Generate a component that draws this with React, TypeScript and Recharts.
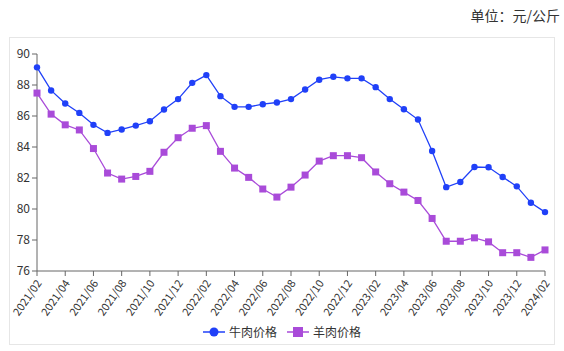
import React from 'react';
import { LineChart, Line, XAxis, YAxis } from 'recharts';

const months = [
  '2021/02', '2021/03', '2021/04', '2021/05', '2021/06', '2021/07', '2021/08', '2021/09', '2021/10', '2021/11', '2021/12',
  '2022/01', '2022/02', '2022/03', '2022/04', '2022/05', '2022/06', '2022/07', '2022/08', '2022/09', '2022/10', '2022/11', '2022/12',
  '2023/01', '2023/02', '2023/03', '2023/04', '2023/05', '2023/06', '2023/07', '2023/08', '2023/09', '2023/10', '2023/11', '2023/12',
  '2024/01', '2024/02',
];

const beef = [
  89.14, 87.65, 86.81, 86.2, 85.43, 84.91, 85.13, 85.38, 85.66, 86.42, 87.09,
  88.14, 88.64, 87.28, 86.59, 86.59, 86.76, 86.87, 87.09, 87.71, 88.34, 88.53, 88.43,
  88.43, 87.86, 87.09, 86.44, 85.77, 83.74, 81.41, 81.74, 82.71, 82.69, 82.06, 81.46,
  80.4, 79.8,
];

const lamb = [
  87.48, 86.12, 85.43, 85.1, 83.9, 82.32, 81.93, 82.1, 82.43, 83.66, 84.6,
  85.21, 85.38, 83.72, 82.64, 82.04, 81.29, 80.77, 81.41, 82.19, 83.09, 83.44, 83.44,
  83.31, 82.39, 81.63, 81.09, 80.55, 79.39, 77.92, 77.92, 78.14, 77.88, 77.18, 77.18,
  76.88, 77.36,
];

const yTicks = [76, 78, 80, 82, 84, 86, 88, 90];

const BEEF = '#2040f8';
const LAMB = '#a94bd9';
const FONT = "'Noto Sans CJK SC', 'Noto Sans', sans-serif";

const data = months.map((m, i) => ({ month: m, beef: beef[i], lamb: lamb[i] }));

const SquareDot = (props: any) => {
  const { cx, cy } = props;
  if (cx == null || cy == null) return null;
  return <rect x={cx - 3.5} y={cy - 3.5} width={7} height={7} fill={LAMB} />;
};

const RotTick = (props: any) => {
  const { x, y, payload } = props;
  return (
    <g transform={`translate(${x + 2},${y + 3})`}>
      <text textAnchor="end" fill="#333" fontSize={11} fontFamily={FONT} transform="rotate(-55)" dy={4}>
        {payload.value}
      </text>
    </g>
  );
};

export default function App() {
  return (
    <div style={{ position: 'absolute', left: 0, top: 0, width: 564, height: 351, background: '#fff', fontFamily: FONT }}>
      <div style={{ position: 'absolute', right: 4, top: 5, fontSize: 14, color: '#333' }}>单位：元/公斤</div>
      <div style={{ position: 'absolute', left: 9, top: 37, width: 546, height: 308, border: '1px solid #e6e6e6', boxSizing: 'border-box' }} />
      <div style={{ position: 'absolute', left: 0, top: 0 }}>
        <LineChart width={564} height={351} data={data} margin={{ top: 54, right: 19, left: 9, bottom: 20 }}>
          <XAxis
            dataKey="month"
            interval={1}
            tick={<RotTick />}
            height={60}
            stroke="#666"
            tickSize={5}
            padding={{ left: 0, right: 0 }}
          />
          <YAxis
            domain={[76, 90]}
            ticks={yTicks}
            width={28}
            stroke="#666"
            tickSize={5}
            tick={{ fontSize: 12, fill: '#333', fontFamily: FONT }}
          />
          <Line
            type="linear"
            dataKey="beef"
            stroke={BEEF}
            strokeWidth={1.3}
            dot={{ r: 3.2, fill: BEEF, stroke: BEEF, strokeWidth: 0 }}
            isAnimationActive={false}
          />
          <Line
            type="linear"
            dataKey="lamb"
            stroke={LAMB}
            strokeWidth={1.3}
            dot={<SquareDot />}
            isAnimationActive={false}
          />
        </LineChart>
      </div>
      <div style={{ position: 'absolute', top: 323, left: 0, width: 564, display: 'flex', justifyContent: 'center', fontSize: 12, color: '#333', alignItems: 'center' }}>
        <svg width={22} height={14} style={{ marginRight: 4 }}>
          <line x1={0} y1={7} x2={22} y2={7} stroke={BEEF} strokeWidth={1.5} />
          <circle cx={11} cy={7} r={4.5} fill={BEEF} />
        </svg>
        <span style={{ marginRight: 10 }}>牛肉价格</span>
        <svg width={22} height={14} style={{ marginRight: 4 }}>
          <line x1={0} y1={7} x2={22} y2={7} stroke={LAMB} strokeWidth={1.5} />
          <rect x={6} y={2} width={10} height={10} fill={LAMB} />
        </svg>
        <span>羊肉价格</span>
      </div>
    </div>
  );
}
